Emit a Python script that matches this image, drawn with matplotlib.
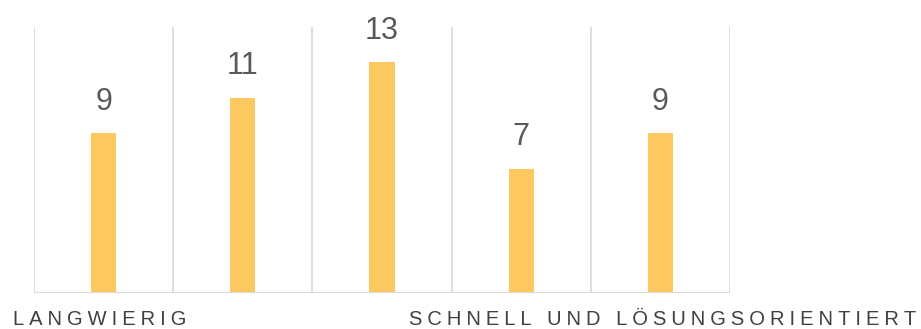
import matplotlib.pyplot as plt

# Ratings per category, left (langwierig) to right (schnell)
categories = ['1', '2', '3', '4', '5']
counts = [9, 11, 13, 7, 9]
scale_left = 'LANGWIERIG'
scale_right = 'SCHNELL UND LÖSUNGSORIENTIERT'

plt.rcParams['font.family'] = ['Liberation Sans', 'DejaVu Sans']

bar_color = '#fcc85f'
grid_color = '#d9d9d9'
label_color = '#404040'

TRACK = '\u2005'  # four-per-em space used as letter spacing


def spaced(text):
    return (TRACK + ' ' + TRACK).join(TRACK.join(word) for word in text.split(' '))


fig = plt.figure(figsize=(9.21, 3.29), dpi=100)
ax = fig.add_axes([34 / 921, 1 - 293 / 329, 696 / 921, 266 / 329])

x = range(len(categories))
bars = ax.bar(x, counts, width=0.18, color=bar_color, zorder=2)

ax.set_xlim(-0.5, len(categories) - 0.5)
ax.set_ylim(0, 15)

# vertical separators between categories
for b in range(len(categories) + 1):
    ax.axvline(b - 0.5, color=grid_color, lw=1.2, zorder=1)
ax.axhline(0, color=grid_color, lw=1.5, zorder=3)

for rect, v in zip(bars, counts):
    ax.annotate(str(v), (rect.get_x() + rect.get_width() / 2, v),
                xytext=(0, 12), textcoords='offset points',
                ha='center', va='bottom', fontsize=22, color='#595959')

for side in ax.spines.values():
    side.set_visible(False)
ax.set_xticks([])
ax.set_yticks([])

fig.text(13 / 921, 1 - 325 / 329, spaced(scale_left), ha='left', va='baseline',
         fontsize=14.5, color=label_color)
fig.text(916 / 921, 1 - 325 / 329, spaced(scale_right), ha='right', va='baseline',
         fontsize=14.5, color=label_color)

fig.savefig('out.png', dpi=100)
